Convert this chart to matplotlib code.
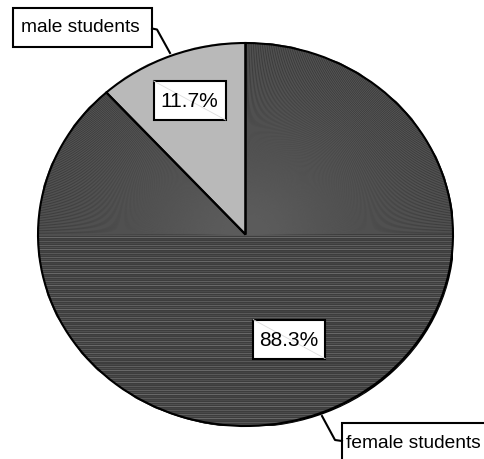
import matplotlib
matplotlib.use("Agg")
import matplotlib.pyplot as plt
import numpy as np
from matplotlib.patches import Ellipse, Rectangle
from matplotlib.transforms import offset_copy

# Shares of students by gender (percent)
labels = ["male students", "female students"]
shares = [11.7, 88.3]
colors = ["#b9b9b9", "#3d3d3d"]

W, H = 485, 459
plt.rcParams["font.family"] = ["Liberation Sans", "DejaVu Sans"]

fig = plt.figure(figsize=(W / 100, H / 100), dpi=100)
fig.patch.set_facecolor("white")

# Pie axes: stretched slightly wider than tall
ax = fig.add_axes([38 / W, 1 - 426 / H, 415 / W, 383 / H])
shadow = Ellipse((0, 0), 2, 2, facecolor="black", edgecolor="none",
                 transform=offset_copy(ax.transData, fig=fig, x=1.5, y=-1.5, units="dots"),
                 zorder=0)
ax.add_patch(shadow)
wedges, _ = ax.pie(shares, colors=colors, startangle=90, counterclock=True,
                   radius=1, center=(0, 0),
                   wedgeprops=dict(edgecolor="none", linewidth=0, zorder=1))
ax.set_aspect("auto")
ax.set_xlim(-1, 1)
ax.set_ylim(-1, 1)
ax.axis("off")

# Streaked shading of the large wedge: horizontal streaks below the centre,
# fine radial rays above it
big = wedges[1]
streak_grays = ["#626262", "#4a4a4a", "#5a5a5a", "#444444", "#6a6a6a", "#505050"]
ys = np.linspace(-1, 0, 96)
for i, y in enumerate(ys):
    ln, = ax.plot([-1, 1], [y, y], color=streak_grays[i % len(streak_grays)],
                  linewidth=0.7, zorder=1.5, solid_capstyle="butt")
    ln.set_clip_path(big)
for a in np.linspace(0, 180, 361):
    t = np.deg2rad(a)
    ln, = ax.plot([0, 1.1 * np.cos(t)], [0, 1.1 * np.sin(t)], color="#5c5c5c",
                  linewidth=0.45, zorder=1.5)
    ln.set_clip_path(big)

# Outlines of the wedges on top of the shading
for w in wedges:
    w.set_edgecolor("black")
    w.set_linewidth(1.5)
    w.set_zorder(2)
    w.set_facecolor("none")
for w, c in zip(wedges, colors):
    fill = ax.add_patch(plt.Polygon(w.get_path().vertices, closed=True,
                                    facecolor=c, edgecolor="none", zorder=1))

# Overlay in pixel coordinates (origin top-left) for labels and leader lines
ov = fig.add_axes([0, 0, 1, 1], zorder=5)
ov.set_xlim(0, W)
ov.set_ylim(H, 0)
ov.axis("off")


def to_px(x, y):
    dx, dy = ax.transData.transform((x, y))
    return dx, H - dy


# Percentage labels at the middle angle of each wedge
pct_dist = [0.75, 0.585]
box_w, box_h = 72, 39
for w, v, r in zip(wedges, shares, pct_dist):
    mid = np.deg2rad((w.theta1 + w.theta2) / 2)
    cx, cy = to_px(r * np.cos(mid), r * np.sin(mid))
    ov.add_patch(Rectangle((cx - box_w / 2, cy - box_h / 2), box_w, box_h,
                           facecolor="white", edgecolor="black", linewidth=1.5, zorder=6))
    ov.plot([cx - box_w / 2, cx + box_w / 2], [cy - box_h / 2, cy + box_h / 2],
            color="#dddddd", linewidth=0.6, zorder=6.5)
    ov.text(cx, cy + 1, f"{v:.1f}%", ha="center", va="center", fontsize=15, zorder=7)

# Category labels with leader lines
ov.add_patch(Rectangle((13, 8), 139, 39, facecolor="white", edgecolor="black",
                       linewidth=1.5, zorder=6))
ov.text(80, 28, labels[0], ha="center", va="center", fontsize=13.8, zorder=7)
ov.plot([152, 157, 170], [28.5, 29.5, 53], color="black", linewidth=1.5, zorder=6)

ov.add_patch(Rectangle((342, 423), 160, 45, facecolor="white", edgecolor="black",
                       linewidth=1.5, zorder=6, clip_on=False))
ov.text(346, 443, labels[1], ha="left", va="center", fontsize=13.8, zorder=7)
ov.plot([342, 335, 322], [441, 440, 416], color="black", linewidth=1.5, zorder=6)

fig.savefig("out.png", dpi=100, facecolor="white")
